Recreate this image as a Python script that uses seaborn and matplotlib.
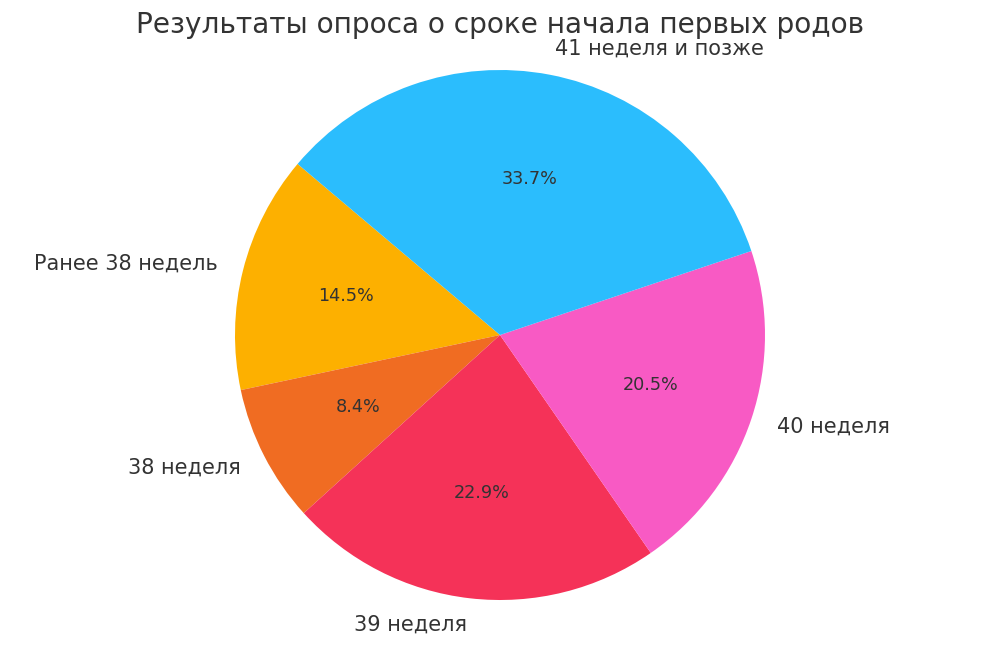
import matplotlib
matplotlib.use('Agg')
import matplotlib.pyplot as plt
import seaborn as sns

# Survey data: share of answers per category
labels = ['Ранее 38 недель', '38 неделя', '39 неделя', '40 неделя', '41 неделя и позже']
shares = [14.5, 8.4, 22.9, 20.5, 33.7]
colors = ['#FDB000', '#F06C22', '#F53258', '#F85AC4', '#2BBDFD']

sns.set_theme(style='white')
plt.rcParams['font.family'] = ['DejaVu Sans']

fig = plt.figure(figsize=(10, 6.47), dpi=100)
ax = fig.add_axes([0, 0, 1, 1])

ax.pie(shares, labels=labels, colors=colors, autopct='%1.1f%%', startangle=139.8,
       wedgeprops={'linewidth': 0, 'edgecolor': 'none'},
       textprops={'fontsize': 15, 'color': '.2'})
for t in ax.texts:
    if t.get_text().endswith('%'):
        t.set_fontsize(12.7)

# place pie: center at (500, 335) px, radius 265 px
ax.set_xlim(-500 / 265, 500 / 265)
ax.set_ylim(-312 / 265, 335 / 265)
ax.axis('off')

fig.text(0.5, 1 - 25 / 647, 'Результаты опроса о сроке начала первых родов',
         ha='center', va='center', fontsize=20.2, color='.2')

plt.savefig('out.png', dpi=100)
